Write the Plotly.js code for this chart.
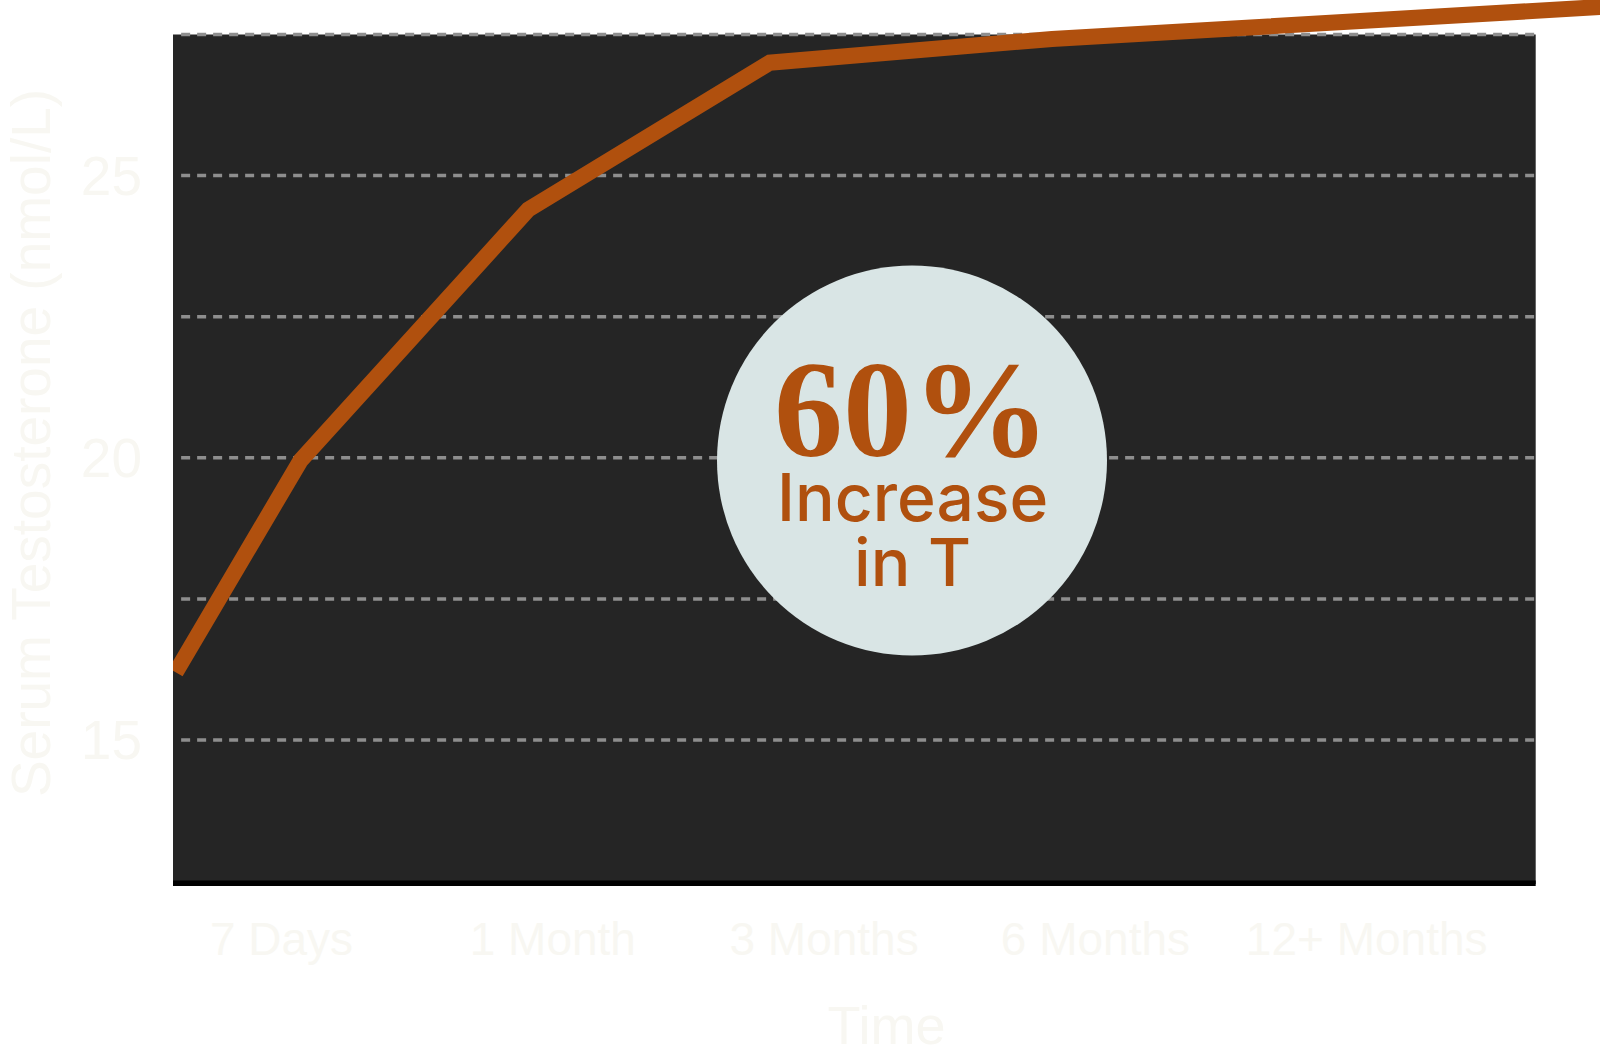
<!DOCTYPE html>
<html>
<head>
<meta charset="utf-8">
<script src="https://cdn.plot.ly/plotly-3.0.1.min.js"></script>
<style>
  html, body { margin: 0; padding: 0; background: #ffffff; }
  #chart { width: 1600px; height: 1055px; }
</style>
</head>
<body>
<div id="chart"></div>
<script>
// x positions: 0..4 are the five time labels, the first point is the baseline
const timeLabels = ['7 Days', '1 Month', '3 Months', '6 Months', '12+ Months'];
const timeTicks = [0, 1, 2, 3, 4];
const lineX = [-0.39, 0.07, 0.91, 1.80, 2.84, 3.97, 5.2];
const lineY = [16.2, 19.95, 24.4, 27.0, 27.42, 27.7, 28.08];
const yTicks = [15, 20, 25];
const gridVals = [15, 17.5, 20, 22.5, 25, 27.5];

const orange = '#b0500e';
const faint = '#f8f7f2';
const labelFont = 'Liberation Sans Narrow, Liberation Sans, Arial';

// dark panel, grid and baseline bar
const shapes = [
  {type: 'rect', xref: 'x', yref: 'y', x0: -0.4, x1: 4.623, y0: 12.45, y1: 27.5,
   fillcolor: '#252525', line: {width: 0}, layer: 'below'}
];
gridVals.forEach(v => {
  shapes.push({type: 'line', xref: 'x', yref: 'y', x0: -0.37, x1: 4.623, y0: v, y1: v,
    line: {color: '#8e8e8e', width: 3.5, dash: '9px,7px'}, layer: 'below'});
});
shapes.push({type: 'line', xref: 'x', yref: 'y', x0: -0.4, x1: 4.623, y0: 12.45, y1: 12.45,
  line: {color: '#000000', width: 7}, layer: 'below'});
// badge circle
shapes.push({type: 'circle', xref: 'x', yref: 'y', xsizemode: 'pixel', ysizemode: 'pixel',
  xanchor: 2.324, yanchor: 19.95, x0: -195, x1: 195, y0: -195, y1: 195,
  fillcolor: '#d9e5e5', line: {width: 0}, layer: 'below'});

var data = [{
  x: lineX,
  y: lineY,
  type: 'scatter',
  mode: 'lines',
  line: {color: orange, width: 16},
  hoverinfo: 'skip'
}];

var layout = {
  width: 1600,
  height: 1055,
  margin: {l: 173, r: 0, t: 0, b: 169},
  paper_bgcolor: '#ffffff',
  plot_bgcolor: '#ffffff',
  showlegend: false,
  xaxis: {
    range: [-0.4, 4.86],
    tickvals: timeTicks,
    ticktext: timeLabels,
    showgrid: false,
    zeroline: false,
    showline: false,
    ticks: '',
    ticklabelstandoff: 22,
    tickfont: {family: labelFont, size: 46, color: faint},
    title: {text: 'Time', standoff: 45,
      font: {family: labelFont, size: 54, color: faint}}
  },
  yaxis: {
    range: [12.414, 28.11],
    tickvals: yTicks,
    ticktext: yTicks.map(String),
    showgrid: false,
    zeroline: false,
    showline: false,
    ticks: '',
    ticklabelstandoff: 30,
    tickfont: {family: labelFont, size: 55, color: faint},
    title: {text: 'Serum Testosterone (nmol/L)', standoff: 30,
      font: {family: labelFont, size: 55, color: faint}}
  },
  shapes: shapes,
  annotations: [
    {x: 2.324, y: 20.85, xref: 'x', yref: 'y', text: '<b>60%</b>', showarrow: false,
     font: {family: 'Liberation Serif, DejaVu Serif, serif', size: 138, color: orange}},
    {x: 2.324, y: 19.3, xref: 'x', yref: 'y', text: 'Increase', showarrow: false,
     font: {family: 'Inter, Roboto, sans-serif', size: 66, color: orange, weight: 500}},
    {x: 2.324, y: 18.15, xref: 'x', yref: 'y', text: 'in T', showarrow: false,
     font: {family: 'Inter, Roboto, sans-serif', size: 66, color: orange, weight: 500}}
  ]
};

Plotly.newPlot('chart', data, layout, {displayModeBar: false, staticPlot: true});
</script>
</body>
</html>
